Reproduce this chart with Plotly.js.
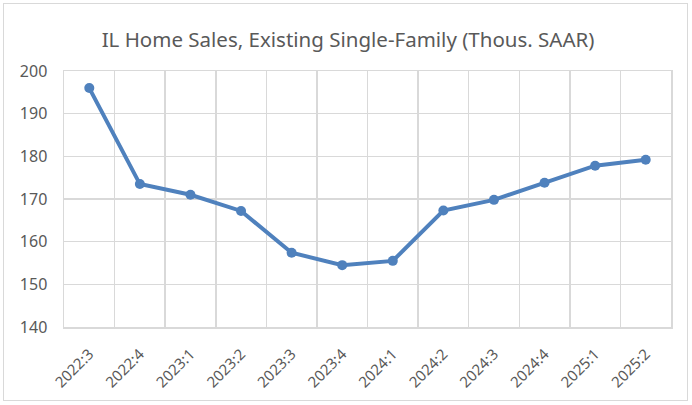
<!DOCTYPE html>
<html>
<head>
<meta charset="utf-8">
<script src="https://cdn.plot.ly/plotly-3.0.1.min.js"></script>
<style>
  html, body { margin: 0; padding: 0; background: #fff; }
  #wrap { position: relative; width: 692px; height: 405px; }
  #chart { width: 692px; height: 405px; }
  #frame { position: absolute; left: 3px; top: 3px; width: 685px; height: 398px;
           border: 1px solid #d9d9d9; pointer-events: none; box-sizing: border-box; }
</style>
</head>
<body>
<div id="wrap"><div id="chart"></div><div id="frame"></div></div>
<script>
const categories = ["2022:3","2022:4","2023:1","2023:2","2023:3","2023:4","2024:1","2024:2","2024:3","2024:4","2025:1","2025:2"];
const homeSales = [196.0, 173.5, 171.0, 167.2, 157.4, 154.5, 155.5, 167.3, 169.8, 173.8, 177.8, 179.2];
const yTicks = [140, 150, 160, 170, 180, 190, 200];
const titleText = "IL Home Sales, Existing Single-Family (Thous. SAAR)";

const font = "Noto Sans, Open Sans, sans-serif";
const catIndex = categories.map((c, i) => i);
const trace = {
  x: catIndex, y: homeSales, type: "scatter", mode: "lines+markers",
  line: { color: "#4f81bd", width: 4 },
  marker: { color: "#4f81bd", size: 10 },
  hoverinfo: "skip"
};
const layout = {
  width: 692, height: 405,
  margin: { l: 64, r: 21, t: 71, b: 78 },
  paper_bgcolor: "#fff", plot_bgcolor: "#fff",
  showlegend: false,
  title: { text: titleText, x: 0.503, xanchor: "center", y: 0.902, yanchor: "middle",
           font: { family: font, size: 20.5, color: "#595959" } },
  xaxis: {
    type: "linear", range: [-0.5, categories.length - 0.5],
    tickmode: "array", tickvals: catIndex, ticktext: categories,
    showgrid: false, zeroline: false,
    showline: true, linecolor: "#d9d9d9", linewidth: 1.5, mirror: true,
    ticks: "outside", ticklen: 11, tickcolor: "rgba(255,255,255,0)", tickangle: -45,
    tickfont: { family: font, size: 15, color: "#595959" },
    minor: { tickmode: "linear", tick0: -0.5, dtick: 1, showgrid: true,
             gridcolor: "#d9d9d9", gridwidth: 1.5, ticks: "" },
    fixedrange: true
  },
  yaxis: {
    range: [140, 200], tickvals: yTicks, showgrid: true, gridcolor: "#d9d9d9", gridwidth: 1.5,
    showline: true, linecolor: "#d9d9d9", linewidth: 1.5, mirror: true, zeroline: false,
    ticks: "", ticklabelstandoff: 12, tickfont: { family: font, size: 16, color: "#595959" },
    fixedrange: true
  }
};
Plotly.newPlot("chart", [trace], layout, { displayModeBar: false, staticPlot: true });
</script>
</body>
</html>
